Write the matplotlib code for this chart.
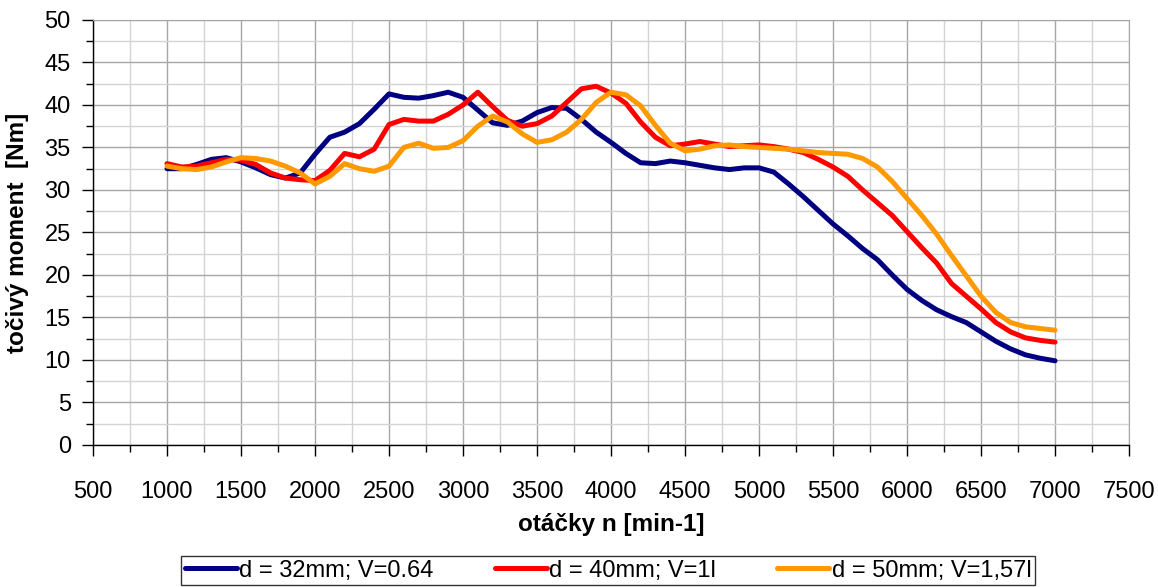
import numpy as np
import matplotlib.pyplot as plt
from matplotlib.ticker import MultipleLocator

plt.rcParams['font.family'] = ['Liberation Sans', 'DejaVu Sans']

# otáčky motoru [min-1]
otacky = np.arange(1000, 7001, 100)

# točivý moment [Nm] pro jednotlivé varianty sání
m_32 = [32.5, 32.5, 33.0, 33.6, 33.8, 33.3, 32.6, 31.8, 31.4, 32.0,
        34.2, 36.2, 36.8, 37.8, 39.5, 41.3, 40.9, 40.8, 41.1, 41.5,
        40.9, 39.4, 37.9, 37.6, 38.1, 39.1, 39.7, 39.6, 38.3, 36.8,
        35.6, 34.3, 33.2, 33.1, 33.4, 33.2, 32.9, 32.6, 32.4, 32.6,
        32.6, 32.1, 30.7, 29.2, 27.6, 26.0, 24.6, 23.1, 21.8, 20.0,
        18.3, 17.0, 15.9, 15.1, 14.4, 13.3, 12.2, 11.3, 10.6, 10.2, 9.9]
m_40 = [33.1, 32.7, 32.8, 33.2, 33.6, 33.5, 33.0, 32.0, 31.4, 31.2,
        31.1, 32.3, 34.3, 33.9, 34.8, 37.7, 38.3, 38.1, 38.1, 38.9,
        40.0, 41.5, 39.8, 38.2, 37.5, 37.8, 38.7, 40.3, 41.9, 42.2,
        41.4, 40.2, 38.0, 36.2, 35.2, 35.4, 35.7, 35.4, 35.1, 35.2,
        35.3, 35.1, 34.8, 34.4, 33.6, 32.7, 31.6, 30.0, 28.5, 27.0,
        25.1, 23.2, 21.4, 19.0, 17.5, 16.0, 14.4, 13.3, 12.6, 12.3, 12.1]
m_50 = [32.8, 32.5, 32.4, 32.7, 33.3, 33.8, 33.7, 33.4, 32.8, 32.0,
        30.7, 31.6, 33.1, 32.5, 32.2, 32.8, 35.0, 35.5, 34.9, 35.0,
        35.8, 37.5, 38.7, 38.0, 36.6, 35.6, 35.9, 36.8, 38.3, 40.3,
        41.5, 41.2, 39.9, 37.6, 35.5, 34.6, 34.8, 35.2, 35.3, 35.1,
        35.0, 34.9, 34.8, 34.6, 34.4, 34.3, 34.2, 33.7, 32.7, 31.0,
        29.0, 27.0, 24.8, 22.3, 19.9, 17.5, 15.6, 14.4, 13.9, 13.7, 13.5]

serie = [
    (m_32, '#000080', 'd = 32mm; V=0.64'),
    (m_40, '#FF0000', 'd = 40mm; V=1l'),
    (m_50, '#FF9900', 'd = 50mm; V=1,57l'),
]

fig = plt.figure(figsize=(11.58, 5.87), dpi=100)
ax = fig.add_axes([0.0803, 0.242, 0.8947, 0.724])

for hodnoty, barva, popis in serie:
    ax.plot(otacky, hodnoty, color=barva, lw=3.6, label=popis,
            solid_capstyle='round', solid_joinstyle='round', zorder=3)

ax.set_xlim(500, 7500)
ax.set_ylim(0, 50)
ax.xaxis.set_major_locator(MultipleLocator(500))
ax.xaxis.set_minor_locator(MultipleLocator(250))
ax.yaxis.set_major_locator(MultipleLocator(5))
ax.yaxis.set_minor_locator(MultipleLocator(2.5))

ax.grid(which='major', color='#a6a6a6', lw=1.0)
ax.grid(which='minor', color='#d4d4d4', lw=1.0)
ax.set_axisbelow(True)

ax.tick_params(which='major', length=8, width=1, color='black', labelsize=17)
ax.tick_params(which='minor', length=5, width=1, color='black')
ax.tick_params(axis='x', pad=18)
ax.tick_params(axis='y', pad=8)

for strana in ('top', 'right'):
    ax.spines[strana].set_color('#a6a6a6')
for strana in ('left', 'bottom'):
    ax.spines[strana].set_color('black')
    ax.spines[strana].set_linewidth(1.0)

ax.set_xlabel('otáčky n [min-1]', fontsize=17.5, fontweight='bold', labelpad=7)
ax.set_ylabel('točivý moment  [Nm]', fontsize=17.5, fontweight='bold', labelpad=11)

fig.legend(loc='upper center', bbox_to_anchor=(0.525, 1 - 556 / 587), ncol=3,
           fontsize=17, frameon=True, fancybox=False, edgecolor='black',
           handlelength=2.2, handletextpad=0.1, columnspacing=2.6,
           borderpad=0.15, borderaxespad=0)

fig.savefig('out.png', dpi=100)
